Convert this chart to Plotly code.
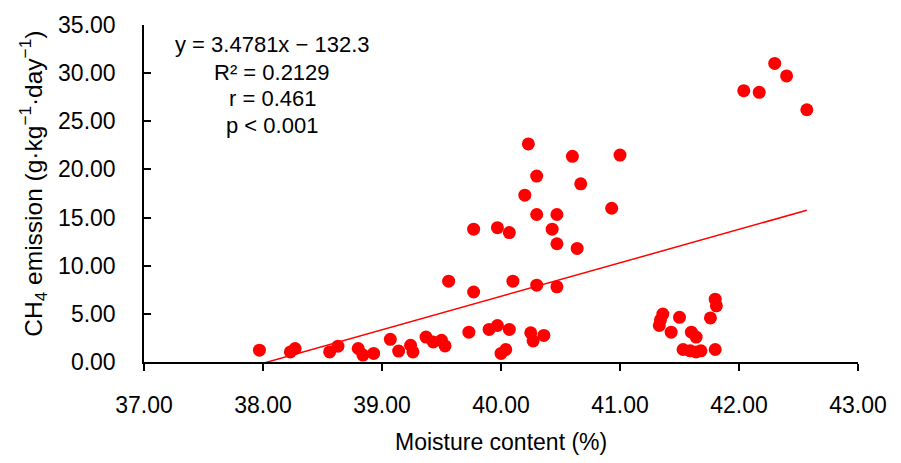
import plotly.graph_objects as go

# Moisture content (%) and CH4 emission (g·kg-1·day-1) for each sample
moisture = [
    37.97, 38.23, 38.27, 38.56, 38.63, 38.80, 38.84, 38.93, 39.07, 39.14,
    39.24, 39.26, 39.37, 39.43, 39.50, 39.53, 39.56,
    40.23, 40.60, 41.00, 40.30, 40.67, 40.20, 40.93, 40.30, 40.47, 39.77,
    39.97, 40.07, 40.43, 40.47, 40.64, 39.77, 40.10, 40.30, 40.47, 39.73,
    39.90, 39.97, 40.07, 40.25, 40.27, 40.36, 40.00, 40.04,
    42.30, 42.40, 42.04, 42.17, 42.57,
    41.36, 41.34, 41.33, 41.50, 41.43, 41.60, 41.64, 41.80, 41.81, 41.76,
    41.53, 41.59, 41.64, 41.68, 41.80,
]
ch4 = [
    1.23, 1.05, 1.40, 1.05, 1.64, 1.40, 0.72, 0.89, 2.35, 1.13,
    1.74, 1.05, 2.59, 2.08, 2.25, 1.67, 8.39,
    22.65, 21.36, 21.49, 19.31, 18.50, 17.33, 15.97, 15.32, 15.32, 13.79,
    13.95, 13.44, 13.79, 12.28, 11.80, 7.27, 8.39, 7.98, 7.81, 3.10,
    3.38, 3.79, 3.38, 3.04, 2.18, 2.76, 0.89, 1.30,
    31.01, 29.71, 28.18, 28.01, 26.20,
    4.98, 4.37, 3.79, 4.64, 3.10, 3.10, 2.59, 6.52, 5.83, 4.58,
    1.30, 1.16, 1.05, 1.16, 1.30,
]

# Linear fit reported on the chart
slope = 3.4781
intercept = -132.3
fit_stats = ["y = 3.4781x \u2212 132.3", "R\u00b2 = 0.2129", "r = 0.461", "p < 0.001"]

x_title = "Moisture content (%)"
y_title = "CH<sub>4</sub> emission (g\u00b7kg<sup>\u22121</sup>\u00b7day<sup>\u22121</sup>)"

x_fit = [min(moisture), max(moisture)]
y_fit = [slope * v + intercept for v in x_fit]

FONT = "Liberation Sans, Arial, sans-serif"
INK = "#000000"

W, H = 901, 463
PL, PR, PT, PB = 144, 858, 20, 362  # plot-area edges in pixels


def px(xp):
    return (xp - PL) / (PR - PL)


def py(yp):
    return (PB - yp) / (PB - PT)


fig = go.Figure()
fig.add_trace(go.Scatter(
    x=x_fit, y=y_fit, mode="lines",
    line=dict(color="#FF0000", width=1.5),
    hoverinfo="skip", showlegend=False,
))
fig.add_trace(go.Scatter(
    x=moisture, y=ch4, mode="markers",
    marker=dict(color="#FF0000", size=13, line=dict(width=0)),
    showlegend=False, cliponaxis=False,
))

# regression statistics, one centred line each
for line_text, yc in zip(fit_stats, [40, 68, 95, 122]):
    fig.add_annotation(
        x=px(272), y=py(yc), xref="paper", yref="paper",
        xanchor="center", yanchor="middle", showarrow=False,
        text=line_text, font=dict(family=FONT, size=22, color=INK),
    )

# axis titles
fig.add_annotation(
    x=px(501), y=py(443), xref="paper", yref="paper",
    xanchor="center", yanchor="middle", showarrow=False,
    text=x_title, font=dict(family=FONT, size=23, color=INK),
)
fig.add_annotation(
    x=px(33), y=py(181), xref="paper", yref="paper",
    xanchor="center", yanchor="middle", showarrow=False, textangle=-90,
    text=y_title, font=dict(family=FONT, size=24.5, color=INK),
)

fig.update_layout(
    width=W, height=H,
    margin=dict(l=PL, r=W - PR, t=PT, b=H - PB),
    paper_bgcolor="white", plot_bgcolor="white",
    font=dict(family=FONT, size=22, color=INK),
    xaxis=dict(
        range=[37, 43], dtick=1, tick0=37, tickformat=".2f",
        showgrid=False, zeroline=False,
        showline=True, linecolor=INK, linewidth=1.5,
        ticks="outside", ticklen=7, tickwidth=1.5, tickcolor=INK,
        ticklabelstandoff=15,
        tickfont=dict(family=FONT, size=23, color=INK),
    ),
    yaxis=dict(
        range=[0, 35], dtick=5, tick0=0, tickformat=".2f",
        showgrid=False, zeroline=False,
        showline=True, linecolor=INK, linewidth=1.5,
        ticks="inside", ticklen=7, tickwidth=1.5, tickcolor=INK,
        ticklabelstandoff=22,
        tickfont=dict(family=FONT, size=23, color=INK),
    ),
)

fig.write_html("out.html")
